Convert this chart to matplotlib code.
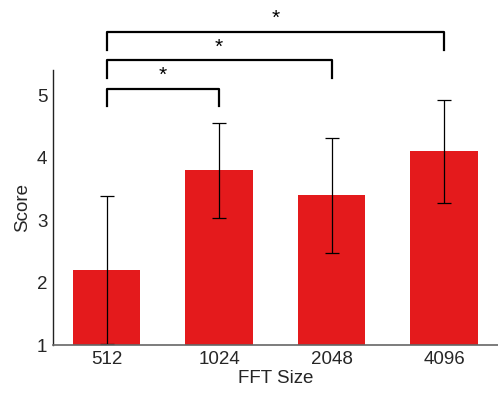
import matplotlib
matplotlib.use("Agg")
import matplotlib.pyplot as plt

fft_sizes = ["512", "1024", "2048", "4096"]
scores = [2.2, 3.8, 3.4, 4.1]
errors = [1.18, 0.76, 0.92, 0.83]

# significance comparisons: (left index, right index, label)
pairs = [(0, 1, "*"), (0, 2, "*"), (0, 3, "*")]
bracket_tops = [5.10, 5.56, 6.01]
bracket_drop = 0.28

plt.rcParams["font.family"] = ["Liberation Sans", "DejaVu Sans"]

fig = plt.figure(figsize=(4.98, 3.94), dpi=100)
ax = fig.add_axes([0.106, 0.124, 0.894, 0.698])

x = list(range(len(fft_sizes)))
ax.bar(x, scores, width=0.6, color="#e41a1c", bottom=0)
ax.errorbar(x, scores, yerr=errors, fmt="none", ecolor="black",
            elinewidth=0.9, capsize=4.8, capthick=0.9)

ax.set_xlim(-0.48, 3.48)
ax.set_ylim(1, 5.4)
ax.set_yticks([1, 2, 3, 4, 5])
ax.set_xticks(x)
ax.set_xticklabels(fft_sizes)
ax.tick_params(length=0, labelsize=13.5, labelcolor="#262626", pad=4)
ax.set_xlabel("FFT Size", fontsize=13.5, color="#262626", labelpad=2)
ax.set_ylabel("Score", fontsize=13.5, color="#262626", labelpad=4)

for side in ("top", "right"):
    ax.spines[side].set_visible(False)
ax.spines["left"].set_color("#222222")
ax.spines["bottom"].set_color("#666666")
ax.spines["left"].set_linewidth(1.0)
ax.spines["bottom"].set_linewidth(1.2)

for (i, j, label), top in zip(pairs, bracket_tops):
    ax.plot([i, i, j, j], [top - bracket_drop, top, top, top - bracket_drop],
            color="black", lw=1.6, clip_on=False)
    ax.text((i + j) / 2, top + 0.06, label, ha="center", va="bottom",
            fontsize=15, color="black", clip_on=False)

fig.savefig("out.png", dpi=100)
